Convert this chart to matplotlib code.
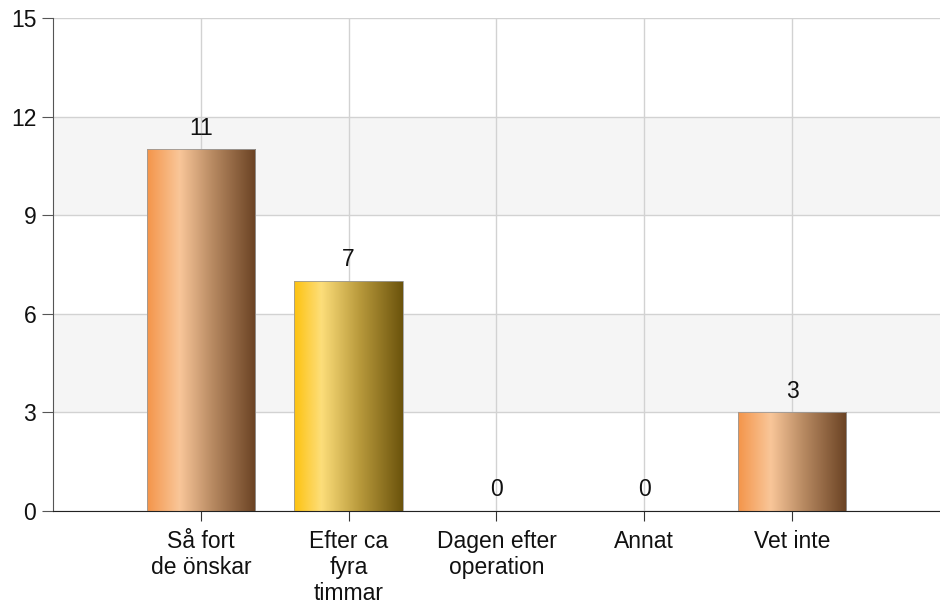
import numpy as np
import matplotlib.pyplot as plt
from matplotlib.colors import LinearSegmentedColormap

categories = ["Så fort\nde önskar", "Efter ca\nfyra\ntimmar", "Dagen efter\noperation", "Annat", "Vet inte"]
counts = [11, 7, 0, 0, 3]
yticks = [0, 3, 6, 9, 12, 15]

orange = LinearSegmentedColormap.from_list("orange", [(0, "#f4954a"), (0.3, "#f9c699"), (0.6, "#b88a62"), (1, "#6a4223")])
gold = LinearSegmentedColormap.from_list("gold", [(0, "#fdc20f"), (0.25, "#fdde7a"), (0.6, "#b99a3c"), (1, "#6b530c")])
bar_cmaps = [orange, gold, orange, orange, orange]

plt.rcParams['font.family'] = ['Liberation Sans', 'DejaVu Sans']
fig = plt.figure(figsize=(9.4, 6.04), dpi=100)
ax = fig.add_axes([53 / 940, 1 - 511 / 604, 1 - 53 / 940, (511 - 18) / 604])

x = np.arange(len(categories))

# alternating bands
for i, y0 in enumerate(yticks[:-1]):
    if i % 2 == 1:
        ax.axhspan(y0, yticks[i + 1], color="#f5f5f5", zorder=0, lw=0)
ax.set_yticks(yticks)
ax.set_xticks(x)
ax.set_xticklabels(categories)
ax.grid(True, color="#d2d2d2", lw=1, zorder=1)
ax.set_axisbelow(True)

bars = ax.bar(x, counts, 0.735, color="none", edgecolor="#9a9a9a", lw=0.6, zorder=3)
grad = np.linspace(0, 1, 256).reshape(1, -1)
for b, cmap, v in zip(bars, bar_cmaps, counts):
    if v <= 0:
        continue
    x0, y0, w, h = b.get_x(), b.get_y(), b.get_width(), b.get_height()
    im = ax.imshow(grad, cmap=cmap, aspect="auto", extent=[x0, x0 + w, y0, y0 + h], zorder=2)
    im.set_clip_path(b)

for xi, v in zip(x, counts):
    ax.annotate(str(v), (xi, v), xytext=(0, 7), textcoords="offset points",
                ha="center", va="bottom", fontsize=16.5, color="#111111")

ax.set_xlim(-1, 5)
ax.set_ylim(0, 15)

for s in ["top", "right"]:
    ax.spines[s].set_visible(False)
ax.spines["left"].set_color("#555555")
ax.spines["bottom"].set_color("#222222")
ax.tick_params(axis="y", length=8, color="#555555", labelsize=16.5, labelcolor="#111111", pad=4)
ax.tick_params(axis="x", length=7, color="#333333", labelsize=16.5, labelcolor="#111111", pad=7)
for lbl in ax.get_xticklabels():
    lbl.set_linespacing(1.15)

fig.savefig("out.png", dpi=100)
